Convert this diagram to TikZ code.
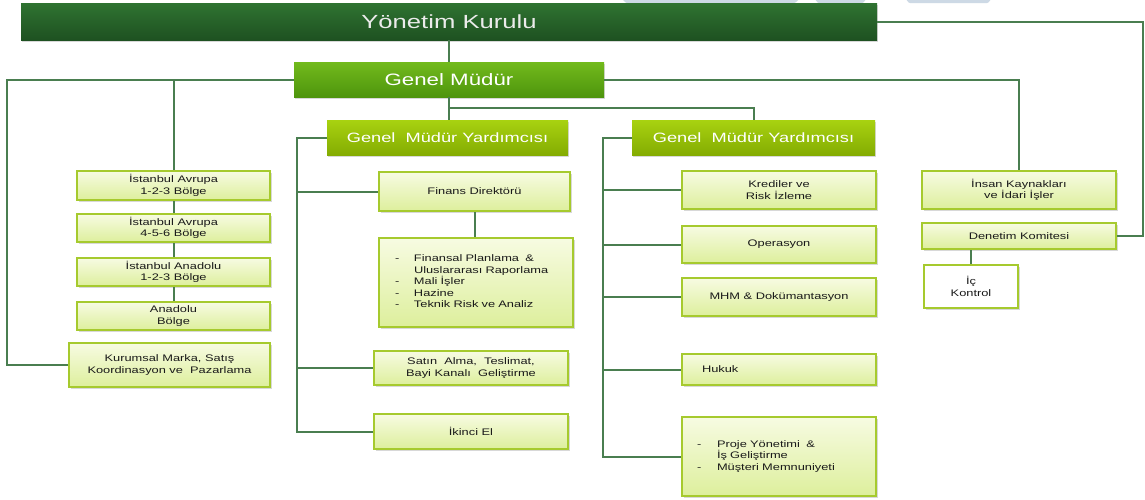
\documentclass[tikz,border=0pt]{standalone}
\usepackage{fontspec}
\setmainfont[FakeStretch=1.35]{Liberation Sans}
\usetikzlibrary{shadows,calc}
\definecolor{yktop}{HTML}{2F7331}
\definecolor{ykbot}{HTML}{1E5121}
\definecolor{gmtop}{HTML}{72BA1C}
\definecolor{gmbot}{HTML}{4E950D}
\definecolor{gmytop}{HTML}{A8D210}
\definecolor{gmybot}{HTML}{84AC02}
\definecolor{boxtop}{HTML}{F7FBE2}
\definecolor{boxbot}{HTML}{DDEF9C}
\definecolor{boxline}{HTML}{A6CA2E}
\definecolor{conn}{HTML}{4A7E50}
\definecolor{txt}{HTML}{1A1A1A}
\definecolor{faint}{HTML}{CDD9E5}
\tikzset{
 hdr/.style={inner sep=0pt, drop shadow={shadow xshift=1pt,shadow yshift=-1.5pt,opacity=.3}},
 yks/.style={hdr, top color=yktop, bottom color=ykbot, text=black!8, font=\fontsize{19}{22}\selectfont},
 gms/.style={hdr, top color=gmtop, bottom color=gmbot, text=white, font=\fontsize{16.5}{19}\selectfont},
 gmys/.style={hdr, top color=gmytop, bottom color=gmybot, text=white, font=\fontsize{13.5}{16}\selectfont},
 unit/.style={draw=boxline, line width=2pt, top color=boxtop, bottom color=boxbot, inner sep=0pt, align=center, text=txt, font=\fontsize{9.5}{11.5}\selectfont, drop shadow={shadow xshift=1.5pt,shadow yshift=-1.8pt,opacity=.3}},
 plainunit/.style={unit, top color=white, bottom color=white},
 link/.style={draw=conn, line width=2pt},
}
\begin{document}
\begin{tikzpicture}[x=1pt,y=-1pt]
\useasboundingbox (0,0) rectangle (1145,499);
\fill[white] (0,0) rectangle (1145,499);
% faint tabs at the top edge
\fill[faint, rounded corners=1pt] (621,-2) -- (626,3) -- (795,3) -- (800,-2) -- cycle;
\fill[faint, rounded corners=1pt] (814,-2) -- (818,3) -- (863,3) -- (867,-2) -- cycle;
\fill[faint, rounded corners=1pt] (905,-2) -- (909,3) -- (988,3) -- (992,-2) -- cycle;
% headers
\node[yks, minimum width=856pt, minimum height=37pt] (yk) at (449,21.5) {Yönetim Kurulu};
\node[gms, minimum width=310pt, minimum height=35pt] (gm) at (449,79.5) {Genel Müdür};
\node[gmys, minimum width=241pt, minimum height=35pt] (gmy1) at (447.5,137.5) {Genel\ \ Müdür Yardımcısı};
\node[gmys, minimum width=243pt, minimum height=35pt] (gmy2) at (753.5,137.5) {Genel\ \ Müdür Yardımcısı};
% left column
\node[unit, minimum width=193pt, minimum height=29pt] (ia1) at (173.5,185.5) {İstanbul Avrupa\\1-2-3 Bölge};
\node[unit, minimum width=193pt, minimum height=28pt] (ia2) at (173.5,228) {İstanbul Avrupa\\4-5-6 Bölge};
\node[unit, minimum width=193pt, minimum height=28pt] (ia3) at (173.5,272) {İstanbul Anadolu\\1-2-3 Bölge};
\node[unit, minimum width=193pt, minimum height=28pt] (ia4) at (173.5,316) {Anadolu\\Bölge};
\node[unit, minimum width=201pt, minimum height=44pt] (kur) at (169.5,365) {Kurumsal Marka, Satış\\Koordinasyon ve\ \ Pazarlama};
% first deputy
\node[unit, minimum width=191pt, minimum height=39pt] (fin) at (474.5,191.5) {Finans Direktörü};
\node[unit, minimum width=194pt, minimum height=89pt, text width=162pt, inner xsep=16pt, align=left] (lst) at (476,282.5)
 {\begin{tabular}{@{}l@{}l@{}}\makebox[19pt][l]{-}&Finansal Planlama\ \ \&\\ &Uluslararası Raporlama\\ -&Mali İşler\\ -&Hazine\\ -&Teknik Risk ve Analiz\end{tabular}};
\node[unit, minimum width=194pt, minimum height=34pt] (sat) at (471,368) {Satın\ \ Alma,\ \ Teslimat,\\Bayi Kanalı\ \ Geliştirme};
\node[unit, minimum width=194pt, minimum height=35pt] (iki) at (471,431.5) {İkinci El};
% second deputy
\node[unit, minimum width=194pt, minimum height=38pt] (kre) at (779,190) {Krediler ve\\Risk İzleme};
\node[unit, minimum width=194pt, minimum height=37pt] (ope) at (779,244.5) {Operasyon};
\node[unit, minimum width=194pt, minimum height=38pt] (mhm) at (779,297) {MHM \& Dokümantasyon};
\node[unit, minimum width=194pt, minimum height=31pt, text width=154pt, inner xsep=20pt, align=left] (huk) at (779,369.5) {Hukuk};
\node[unit, minimum width=194pt, minimum height=79pt, text width=164pt, inner xsep=15pt, align=left] (prj) at (779,456.5)
 {\begin{tabular}{@{}l@{}l@{}}\makebox[20pt][l]{-}&Proje Yönetimi\ \ \&\\ &İş Geliştirme\\ -&Müşteri Memnuniyeti\end{tabular}};
% right column
\node[unit, minimum width=194pt, minimum height=38pt] (ik) at (1019,190) {İnsan Kaynakları\\ve İdari İşler};
\node[unit, minimum width=194pt, minimum height=26pt] (den) at (1019,236) {Denetim Komitesi};
\node[plainunit, minimum width=94pt, minimum height=43pt] (ic) at (971,286.5) {İç\\Kontrol};
% connectors
\coordinate (L0) at (7,0);
\coordinate (L1) at (297,0);
\coordinate (L2) at (603,0);
\coordinate (R0) at (1143,0);
\coordinate (J) at (0,108);
\draw[link] (yk.south) -- (yk.south |- gm.north);
\draw[link] (gm.west) -| (L0 |- kur.west) -- (kur.west);
\draw[link] (gm.west) -| (ia1.north);
\draw[link] (ia1) -- (ia2);
\draw[link] (ia2) -- (ia3);
\draw[link] (ia3) -- (ia4);
\draw[link] (yk.east) -| (R0 |- den.east) -- (den.east);
\draw[link] (gm.east) -| (ik.north);
\draw[link] (gm.south) -- (gm.south |- gmy1.north);
\draw[link] (gm.south |- J) -| (gmy2.north);
\draw[link] (gmy1.west) -| (L1 |- iki.west) -- (iki.west);
\draw[link] (L1 |- fin.west) -- (fin.west);
\draw[link] (L1 |- sat.west) -- (sat.west);
\draw[link] (fin.south) -- (fin.south |- lst.north);
\draw[link] (gmy2.west) -| (L2 |- prj.west) -- (prj.west);
\draw[link] (L2 |- kre.west) -- (kre.west);
\draw[link] (L2 |- ope.west) -- (ope.west);
\draw[link] (L2 |- mhm.west) -- (mhm.west);
\draw[link] (L2 |- huk.west) -- (huk.west);
\draw[link] (ic.north) -- (ic.north |- den.south);
\end{tikzpicture}
\end{document}
